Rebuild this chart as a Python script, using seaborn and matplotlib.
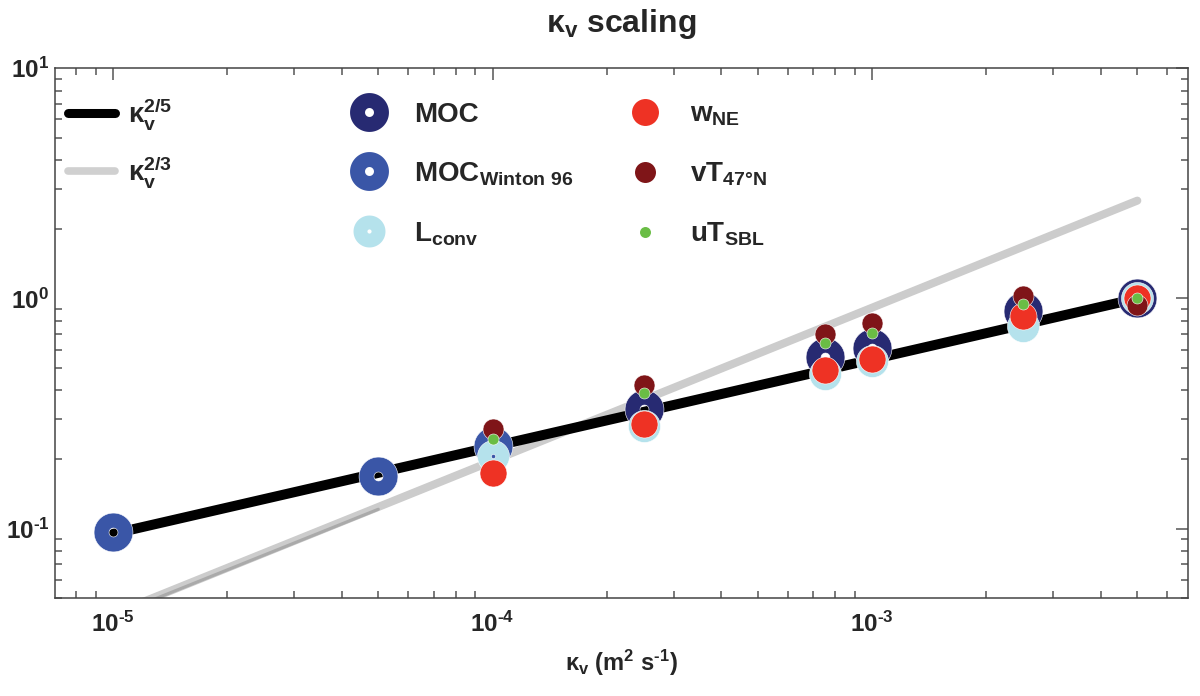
import numpy as np
import matplotlib
matplotlib.use("Agg")
import matplotlib.pyplot as plt
from matplotlib.path import Path
from matplotlib.lines import Line2D
import seaborn as sns
import pandas as pd

# kappa_v values (m2 s-1) and normalised responses
k_moc = [2.5e-4, 7.5e-4, 1e-3, 2.5e-3, 5e-3]
moc = [0.33, 0.555, 0.61, 0.878, 1.0]

k_winton = [1e-5, 5e-5, 1e-4]
winton = [0.097, 0.170, 0.229]

k_obs = [1e-4, 2.5e-4, 7.5e-4, 1e-3, 2.5e-3, 5e-3]
lconv = [0.207, 0.279, 0.47, 0.534, 0.76, 1.0]
w_ne = [0.175, 0.286, 0.487, 0.545, 0.84, 1.0]
vt_47n = [0.271, 0.42, 0.70, 0.78, 1.02, 0.94]
ut_sbl = [0.245, 0.388, 0.64, 0.71, 0.95, 1.0]

# reference power laws (end points)
k_line = [1e-5, 5e-3]
line_25 = [0.095, 1.0]
line_23 = [0.0426, 2.66]
k_line_lo = [1.1e-5, 5e-5]
line_23_lo = [0.0446, 0.1215]

xticks = [1e-5, 1e-4, 1e-3]
xticklabels = ["$10^{\u20105}$", "$10^{\u20104}$", "$10^{\u20103}$"]
yticks = [1e-1, 1e0, 1e1]
yticklabels = ["$10^{\u20101}$", "$10^{0}$", "$10^{1}$"]

c_moc = "#272a72"
c_win = "#3a56a7"
c_lconv = "#b5e2ec"
c_wne = "#ee3224"
c_vt = "#7f1518"
c_ut = "#6abd45"


def ring(hole):
    t = np.linspace(0, 2 * np.pi, 90)
    outer = np.column_stack([np.cos(t), np.sin(t)])
    inner = hole * np.column_stack([np.cos(-t), np.sin(-t)])
    verts = np.concatenate([outer, inner])
    codes = ([Path.MOVETO] + [Path.LINETO] * (len(t) - 2) + [Path.CLOSEPOLY]) * 2
    return Path(verts, codes)


def main():
    sns.set_theme(style="white")
    plt.rcParams['font.family'] = ['Liberation Sans', 'DejaVu Sans']
    plt.rcParams['font.weight'] = 'bold'
    plt.rcParams['axes.titleweight'] = 'bold'
    plt.rcParams['axes.labelweight'] = 'bold'
    plt.rcParams['mathtext.fontset'] = 'custom'
    for k in ['rm', 'it', 'bf', 'sf']:
        plt.rcParams['mathtext.' + k] = 'Liberation Sans:bold'
    plt.rcParams['mathtext.default'] = 'bf'

    fig = plt.figure(figsize=(12, 6.96), dpi=100)
    ax = fig.add_axes([0.0458, 0.1408, 0.9442, 0.7612])
    ax.set_xscale('log')
    ax.set_yscale('log')

    sns.lineplot(x=k_line_lo, y=line_23_lo, color="#aaaaaa", linewidth=2.2, ax=ax, zorder=2)
    sns.lineplot(x=k_line, y=line_23, color="#cccccc", linewidth=5.8, ax=ax, zorder=1)
    sns.lineplot(x=k_line, y=line_25, color="black", linewidth=7.2, ax=ax, zorder=3)

    ring_big = ring(0.23)
    ring_small = ring(0.13)
    layers = [
        (k_moc, moc, c_moc, ring_big, 784),
        (k_winton, winton, c_win, ring_big, 784),
        (k_obs, lconv, c_lconv, ring_small, 530),
        (k_obs, w_ne, c_wne, 'o', 378),
        (k_obs, vt_47n, c_vt, 'o', 228),
        (k_obs, ut_sbl, c_ut, 'o', 63),
    ]
    for i, (kx, vals, col, mk, size) in enumerate(layers):
        df = pd.DataFrame({'k': kx, 'v': vals})
        sns.scatterplot(data=df, x='k', y='v', color=col, marker=mk, s=size,
                        edgecolor='white', linewidth=0.4, ax=ax, zorder=4 + i)

    ax.set_xlim(7.03e-6, 6.8e-3)
    ax.set_ylim(0.05, 10)
    ax.set_xticks(xticks)
    ax.set_xticklabels(xticklabels)
    ax.set_yticks(yticks)
    ax.set_yticklabels(yticklabels)
    ax.xaxis.set_minor_formatter(matplotlib.ticker.NullFormatter())
    ax.yaxis.set_minor_formatter(matplotlib.ticker.NullFormatter())
    ax.tick_params(which='both', direction='in', top=True, right=True,
                   color='#555555', width=1.1, labelsize=17.5)
    ax.tick_params(axis='x', which='both', pad=10)
    ax.tick_params(axis='y', which='both', pad=4)
    ax.tick_params(which='major', length=8.5)
    ax.tick_params(which='minor', length=5, bottom=True, left=True)
    for sp in ax.spines.values():
        sp.set_color('#444444')
        sp.set_linewidth(1.1)

    ax.set_xlabel("$κ_v$ (m$^2$ s$^{\u20101}$)", fontsize=17, labelpad=8)
    ax.set_ylabel("")
    ax.set_title("$κ_v$ scaling", fontsize=23, pad=26)

    # power-law legend
    h_lines = [Line2D([], [], color='black', linewidth=6.5),
               Line2D([], [], color='#d0d0d0', linewidth=5.5)]
    leg1 = ax.legend(h_lines, ["$κ_v^{2/5}$", "$κ_v^{2/3}$"], loc='upper left',
                     bbox_to_anchor=(0.0115, 0.948), frameon=False, fontsize=20,
                     handlelength=1.7, handletextpad=0.45, labelspacing=0.8,
                     borderpad=0, borderaxespad=0)
    ax.add_artist(leg1)

    # marker legend
    h_mk = [Line2D([], [], linestyle='none', marker=ring_big, markersize=28, markerfacecolor=c_moc, markeredgecolor='none'),
            Line2D([], [], linestyle='none', marker=ring_big, markersize=28, markerfacecolor=c_win, markeredgecolor='none'),
            Line2D([], [], linestyle='none', marker=ring_small, markersize=23, markerfacecolor=c_lconv, markeredgecolor='none'),
            Line2D([], [], linestyle='none', marker='o', markersize=19.4, markerfacecolor=c_wne, markeredgecolor='none'),
            Line2D([], [], linestyle='none', marker='o', markersize=15.1, markerfacecolor=c_vt, markeredgecolor='none'),
            Line2D([], [], linestyle='none', marker='o', markersize=7.9, markerfacecolor=c_ut, markeredgecolor='none')]
    labels = ["MOC", "MOC$_{Winton\\ 96}$", "L$_{conv}$",
              "w$_{NE}$", "vT$_{47°N}$", "uT$_{SBL}$"]
    ax.legend(h_mk, labels, loc='upper left', ncol=2,
              bbox_to_anchor=(0.2655, 0.937), frameon=False, fontsize=20,
              handlelength=0.95, handletextpad=1.15, labelspacing=1.17,
              columnspacing=2.1, borderpad=0, borderaxespad=0)

    fig.savefig("out.png", dpi=100)


if __name__ == "__main__":
    main()
